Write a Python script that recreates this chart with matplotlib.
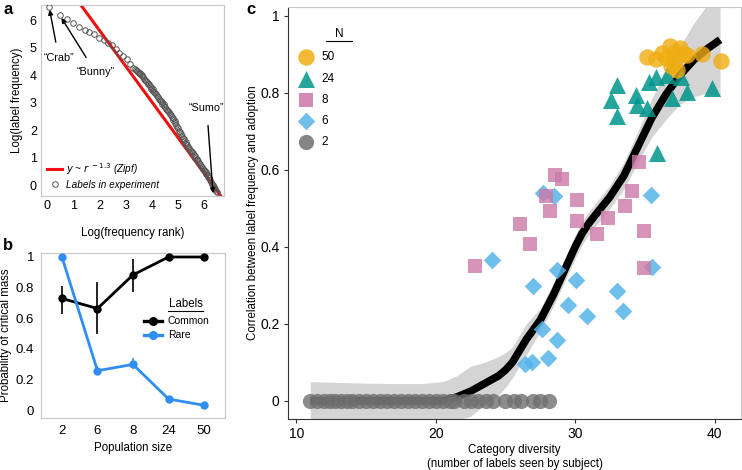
import matplotlib
matplotlib.use("Agg")
import matplotlib.pyplot as plt
import numpy as np

plt.rcParams['font.family'] = ['Liberation Sans', 'DejaVu Sans']
plt.rcParams['font.size'] = 9

# ---------------- Panel a data ----------------
rank_log_top = [0.08, 0.48, 0.78, 1.0, 1.23, 1.44, 1.61, 1.81, 2.0, 2.18, 2.34, 2.47, 2.63, 2.76, 2.91, 3.04, 3.17, 3.29]
freq_log_top = [6.49, 6.2, 6.03, 5.88, 5.76, 5.64, 5.56, 5.48, 5.36, 5.27, 5.18, 5.08, 4.96, 4.81, 4.69, 4.57, 4.39, 4.27]
rank_log_a = [3.36, 3.43, 3.50, 3.57, 3.64, 3.71, 3.78, 3.85, 3.92, 3.99, 4.06, 4.13, 4.20, 4.27, 4.34, 4.41,
              4.48, 4.55, 4.62, 4.69, 4.76, 4.83, 4.90, 4.97, 5.04, 5.11, 5.18, 5.25, 5.32, 5.39, 5.46, 5.53,
              5.60, 5.67, 5.74, 5.81, 5.88, 5.95, 6.02, 6.09, 6.16, 6.23, 6.30, 6.36, 6.42, 6.48]
freq_log_a = [4.21, 4.15, 4.09, 4.03, 3.95, 3.86, 3.78, 3.69, 3.60, 3.51, 3.42, 3.33, 3.24, 3.14, 3.05, 2.96,
              2.86, 2.77, 2.68, 2.58, 2.47, 2.36, 2.24, 2.12, 1.98, 1.84, 1.70, 1.59, 1.49, 1.39, 1.29, 1.19,
              1.09, 0.99, 0.90, 0.80, 0.70, 0.60, 0.50, 0.39, 0.28, 0.17, 0.05, -0.06, -0.16, -0.27]
rank_log_b = [3.40, 3.47, 3.54, 3.61, 3.68, 3.75, 3.82, 3.89, 3.96, 4.03, 4.10, 4.17, 4.24, 4.31, 4.38, 4.45,
              4.52, 4.59, 4.66, 4.73, 4.80, 4.87, 4.94, 5.01, 5.08, 5.15, 5.22, 5.29, 5.36, 5.43, 5.50, 5.57,
              5.64, 5.71, 5.78, 5.85, 5.92, 5.99, 6.06, 6.13, 6.20, 6.27, 6.33, 6.39, 6.45]
freq_log_b = [4.20, 4.13, 4.07, 3.99, 3.92, 3.83, 3.75, 3.66, 3.57, 3.48, 3.39, 3.30, 3.20, 3.11, 3.02, 2.93,
              2.83, 2.74, 2.64, 2.54, 2.43, 2.32, 2.20, 2.06, 1.92, 1.78, 1.66, 1.56, 1.45, 1.35, 1.25, 1.15,
              1.05, 0.96, 0.86, 0.76, 0.66, 0.56, 0.46, 0.35, 0.24, 0.12, 0.01, -0.10, -0.21]
zipf_x = [1.0, 6.8]
zipf_y = [8.23 - 1.3 * 1.0, 8.23 - 1.3 * 6.8]

# ---------------- Panel b data ----------------
pop_sizes = ['2', '6', '8', '24', '50']
common_p = [0.729, 0.663, 0.883, 1.0, 1.0]
common_lo = [0.63, 0.497, 0.77, 1.0, 1.0]
common_hi = [0.81, 0.836, 0.99, 1.0, 1.0]
rare_p = [1.0, 0.257, 0.298, 0.072, 0.031]
rare_lo = [1.0, 0.226, 0.267, 0.065, 0.026]
rare_hi = [1.0, 0.29, 0.34, 0.08, 0.036]

# ---------------- Panel c data ----------------
n2_x = [11.0, 11.5, 12.0, 12.4, 12.8, 13.2, 13.6, 14.0, 14.5, 15.0, 15.5, 16.0, 16.5, 17.0, 17.5, 18.0,
        18.5, 19.0, 19.5, 20.0, 20.5, 21.0, 21.3, 22.0, 22.5, 23.0, 23.6, 24.1, 25.0, 25.6, 26.1, 27.0, 27.5, 28.1]
n2_y = [0.0] * len(n2_x)
n6_x = [24.05, 28.73, 27.0, 30.09, 33.03, 35.5, 29.52, 30.88, 33.43, 27.61, 28.73, 28.06, 26.41, 26.87,
        27.66, 28.47, 35.41]
n6_y = [0.365, 0.340, 0.299, 0.314, 0.286, 0.348, 0.248, 0.221, 0.234, 0.187, 0.158, 0.111, 0.095, 0.10,
        0.541, 0.532, 0.535]
n8_x = [28.56, 29.04, 27.92, 30.16, 28.18, 26.03, 30.16, 32.36, 31.6, 26.77, 22.83, 33.55, 34.05, 34.58,
        34.94, 34.94]
n8_y = [0.587, 0.576, 0.531, 0.522, 0.494, 0.460, 0.468, 0.474, 0.433, 0.407, 0.351, 0.505, 0.546, 0.620,
        0.440, 0.345]
n24_x = [33.03, 32.55, 33.03, 34.34, 34.46, 35.18, 35.29, 35.77, 36.6, 37.56, 36.97, 38.04, 39.83, 35.89]
n24_y = [0.821, 0.782, 0.739, 0.795, 0.769, 0.760, 0.829, 0.842, 0.847, 0.842, 0.786, 0.803, 0.812, 0.643]
n50_x = [35.17, 35.77, 36.24, 36.5, 36.84, 37.07, 37.3, 37.5, 37.2, 37.8, 38.04, 36.9, 39.1, 40.47]
n50_y = [0.894, 0.889, 0.903, 0.89, 0.922, 0.881, 0.86, 0.916, 0.905, 0.90, 0.899, 0.87, 0.901, 0.884]

fit_x = [11, 13, 15, 17, 19, 20.5, 21.5, 22.5, 23.5, 24.5, 25.0, 25.5, 26.0, 26.5, 27.0, 27.5, 28.0, 28.5,
         29.0, 29.5, 30.0, 30.5, 31.0, 31.5, 32.5, 33.5, 34.5, 35.5, 36.5, 37.5, 38.5, 39.5, 40.4]
fit_y = [0, 0, 0, 0, 0, 0.0, 0.01, 0.025, 0.045, 0.065, 0.08, 0.10, 0.13, 0.16, 0.185, 0.21, 0.245, 0.28,
         0.32, 0.36, 0.40, 0.435, 0.462, 0.485, 0.53, 0.585, 0.66, 0.735, 0.795, 0.845, 0.885, 0.915, 0.938]
fit_lo = [-0.06, -0.06, -0.06, -0.055, -0.05, -0.05, -0.05, -0.04, -0.01, 0.015, 0.035, 0.06, 0.09, 0.12,
          0.15, 0.18, 0.215, 0.25, 0.29, 0.33, 0.37, 0.405, 0.432, 0.455, 0.50, 0.55, 0.62, 0.685, 0.73,
          0.77, 0.79, 0.80, 0.79]
fit_hi = [0.05, 0.048, 0.046, 0.045, 0.045, 0.05, 0.065, 0.09, 0.10, 0.115, 0.125, 0.14, 0.17, 0.2, 0.22,
          0.24, 0.275, 0.31, 0.35, 0.39, 0.43, 0.465, 0.492, 0.515, 0.56, 0.62, 0.70, 0.785, 0.86, 0.92,
          0.98, 1.03, 1.08]

# ---------------- Figure ----------------
fig = plt.figure(figsize=(7.42, 4.70), dpi=100)
W, H = 742, 470

def axes_px(l, t, r, b):
    return fig.add_axes([l / W, 1 - b / H, (r - l) / W, (b - t) / H])

light = '#c8c8c8'
LAB = 8.3

# ----- Panel a -----
axa = axes_px(41, 5, 224, 196)
axa.plot(zipf_x, zipf_y, color='#ee1111', lw=2.2, zorder=2, label=r'$y$ ~ $r^{\;-1.3}$ (Zipf)')
axa.plot(rank_log_a + rank_log_b, freq_log_a + freq_log_b, ls='none', marker='o', ms=4.0, mfc='none',
         mec='#555555', mew=0.7, zorder=3)
axa.plot(rank_log_top, freq_log_top, ls='none', marker='o', ms=4.0, mfc='none', mec='#555555', mew=0.7,
         zorder=3, label='Labels in experiment')
axa.set_xlim(-0.23, 6.76)
axa.set_ylim(-0.4, 6.55)
axa.set_xticks(range(7))
axa.set_yticks(range(7))
axa.tick_params(length=0, pad=3, labelsize=9)
for s in axa.spines.values():
    s.set_color(light)
axa.set_xlabel('Log(frequency rank)', labelpad=11, fontsize=LAB)
axa.set_ylabel('Log(label frequency)', labelpad=5, fontsize=LAB)
leg = axa.legend(loc='lower left', frameon=False, handlelength=1.5, handletextpad=0.4, borderaxespad=0.2,
                 labelspacing=0.3, prop={'style': 'italic', 'size': 7.2})
axa.annotate('\u201cCrab\u201d', xy=(0.1, 6.38), xytext=(0.45, 4.62), ha='center', va='center', fontsize=7.8,
             arrowprops=dict(arrowstyle='-|>', color='black', lw=1.0, mutation_scale=7, shrinkA=6, shrinkB=0))
axa.annotate('\u201cBunny\u201d', xy=(0.55, 6.08), xytext=(1.85, 4.1), ha='center', va='center', fontsize=7.8,
             arrowprops=dict(arrowstyle='-|>', color='black', lw=1.0, mutation_scale=7, shrinkA=6, shrinkB=0))
axa.annotate('\u201cSumo\u201d', xy=(6.34, -0.3), xytext=(6.1, 2.8), ha='center', va='center', fontsize=7.8,
             arrowprops=dict(arrowstyle='-|>', color='black', lw=1.0, mutation_scale=7, shrinkA=7, shrinkB=0))

# ----- Panel b -----
axb = axes_px(41, 253, 225, 418)
xb = np.arange(1, len(pop_sizes) + 1)
blue = '#2f8ef0'
axb.vlines(xb, common_lo, common_hi, color='black', lw=1.2, zorder=3)
axb.vlines(xb, rare_lo, rare_hi, color=blue, lw=1.2, zorder=3)
axb.plot(xb, common_p, color='black', lw=2.0, marker='o', ms=5, zorder=4)
axb.plot(xb, rare_p, color=blue, lw=2.0, marker='o', ms=5, zorder=4)
axb.set_xlim(0.41, 5.59)
axb.set_ylim(-0.052, 1.026)
axb.set_xticks(xb)
axb.set_xticklabels(pop_sizes)
axb.set_yticks([0, 0.2, 0.4, 0.6, 0.8, 1.0])
axb.set_yticklabels(['0', '0.2', '0.4', '0.6', '0.8', '1'])
axb.tick_params(length=0, pad=5, labelsize=9.5)
for s in axb.spines.values():
    s.set_color(light)
axb.set_xlabel('Population size', labelpad=4, fontsize=LAB)
axb.set_ylabel('Probability of critical mass', labelpad=3, fontsize=LAB)
tr = axb.transAxes
axb.text(0.785, 0.69, 'Labels', transform=tr, ha='center', va='center', fontsize=LAB)
axb.plot([0.69, 0.88], [0.648, 0.648], transform=tr, color='black', lw=0.8, clip_on=False)
for yy, col, lab in [(0.588, 'black', 'Common'), (0.503, blue, 'Rare')]:
    axb.plot([0.56, 0.66], [yy, yy], transform=tr, color=col, lw=2.4, clip_on=False)
    axb.plot([0.61], [yy], transform=tr, color=col, marker='o', ms=5.5, clip_on=False)
    axb.text(0.69, yy, lab, transform=tr, ha='left', va='center', fontsize=7.5)

# ----- Panel c -----
axc = axes_px(288, 7, 741, 419)
axc.fill_between(fit_x, fit_lo, fit_hi, color='#d4d4d4', lw=0, zorder=1)
axc.plot(fit_x, fit_y, color='black', lw=5.5, solid_capstyle='butt', zorder=2)
col2, col6, col8, col24, col50 = '#707070', '#56b4e9', '#cc79a7', '#00958c', '#efad12'
axc.scatter(n2_x, n2_y, s=120, marker='o', color=col2, alpha=0.8, lw=0, zorder=3)
axc.scatter(n6_x, n6_y, s=80, marker='D', color=col6, alpha=0.85, lw=0, zorder=3)
axc.scatter(n8_x, n8_y, s=110, marker='s', color=col8, alpha=0.8, lw=0, zorder=3)
axc.scatter(n24_x, n24_y, s=150, marker='^', color=col24, alpha=0.85, lw=0, zorder=3)
axc.scatter(n50_x, n50_y, s=140, marker='o', color=col50, alpha=0.8, lw=0, zorder=3)
axc.set_xlim(9.4, 41.9)
axc.set_ylim(-0.047, 1.023)
axc.set_xticks([10, 20, 30, 40])
axc.set_yticks([0, 0.2, 0.4, 0.6, 0.8, 1.0])
axc.set_yticklabels(['0', '0.2', '0.4', '0.6', '0.8', '1'])
axc.tick_params(length=3, width=0.8, color='#333333', pad=3, labelsize=10)
axc.spines['left'].set_color('#333333')
axc.spines['bottom'].set_color('#333333')
axc.spines['top'].set_color(light)
axc.spines['right'].set_color(light)
axc.set_xlabel('Category diversity\n(number of labels seen by subject)', labelpad=2, linespacing=1.2,
               fontsize=LAB)
axc.set_ylabel('Correlation between label frequency and adoption', labelpad=1, fontsize=LAB)
trc = axc.transAxes
axc.text(0.113, 0.935, 'N', transform=trc, ha='center', va='center', fontsize=8.5)
axc.plot([0.084, 0.141], [0.917, 0.917], transform=trc, color='black', lw=0.8, clip_on=False)
leg_items = [('50', 'o', col50, 140, 0.879), ('24', '^', col24, 150, 0.826), ('8', 's', col8, 110, 0.775),
             ('6', 'D', col6, 80, 0.724), ('2', 'o', col2, 120, 0.673)]
for lab, mk, col, sz, yy in leg_items:
    axc.scatter([0.0397], [yy], transform=trc, marker=mk, color=col, s=sz, alpha=0.85, lw=0, clip_on=False)
    axc.text(0.073, yy, lab, transform=trc, ha='left', va='center', fontsize=8.5)

# Panel letters
fig.text(3 / W, 1 - 9 / H, 'a', fontsize=12, fontweight='bold', va='center', ha='left')
fig.text(3 / W, 1 - 245 / H, 'b', fontsize=12, fontweight='bold', va='center', ha='left')
fig.text(246 / W, 1 - 9 / H, 'c', fontsize=12, fontweight='bold', va='center', ha='left')

fig.savefig('out.png', dpi=100)
